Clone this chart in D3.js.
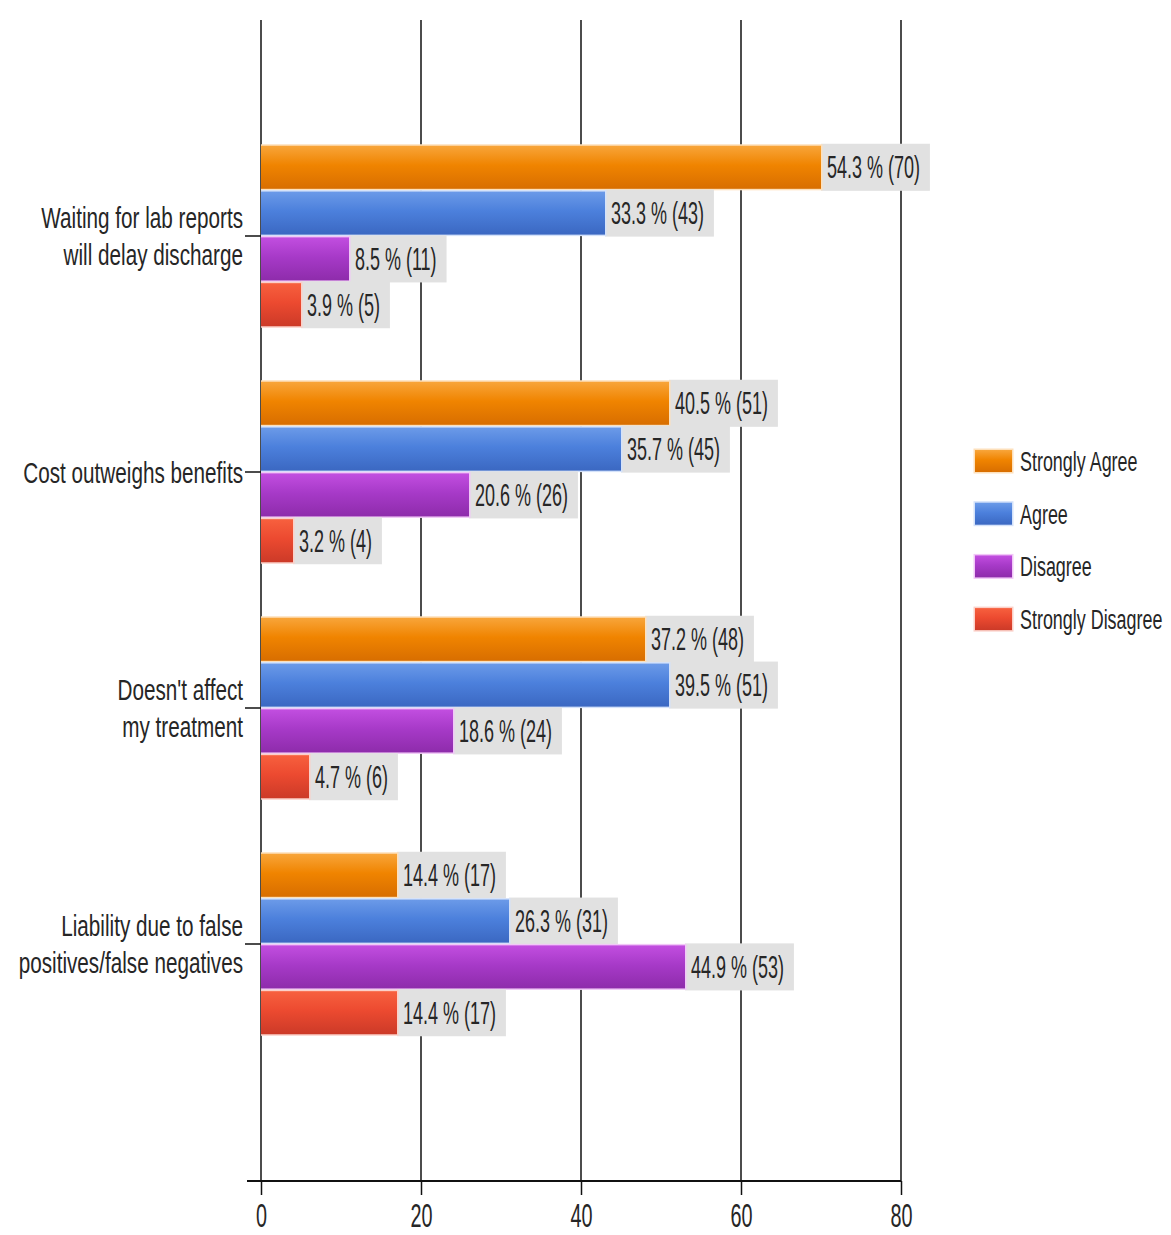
<!DOCTYPE html>
<html>
<head>
<meta charset="utf-8">
<script src="https://cdn.jsdelivr.net/npm/d3@7"></script>
<style>
  html, body { margin: 0; padding: 0; background: #fff; }
  svg text { font-family: "Liberation Sans", Arial, sans-serif; fill: #262626; }
</style>
</head>
<body>
<svg id="chart" width="1171" height="1235"></svg>
<script>
// Survey statements (each entry holds the lines of its wrapped label)
const categories = [
  ["Waiting for lab reports", "will delay discharge"],
  ["Cost outweighs benefits"],
  ["Doesn't affect", "my treatment"],
  ["Liability due to false", "positives/false negatives"]
];
const seriesNames = ["Strongly Agree", "Agree", "Disagree", "Strongly Disagree"];

// Response counts per statement
const stronglyAgree    = [70, 51, 48, 17];
const agree            = [43, 45, 51, 31];
const disagree         = [11, 26, 24, 53];
const stronglyDisagree = [5, 4, 6, 17];

// Share of respondents per statement (%)
const stronglyAgreePct    = [54.3, 40.5, 37.2, 14.4];
const agreePct            = [33.3, 35.7, 39.5, 26.3];
const disagreePct         = [8.5, 20.6, 18.6, 44.9];
const stronglyDisagreePct = [3.9, 3.2, 4.7, 14.4];

const xTicks = [0, 20, 40, 60, 80];

const counts = [stronglyAgree, agree, disagree, stronglyDisagree];
const pcts = [stronglyAgreePct, agreePct, disagreePct, stronglyDisagreePct];

// Colour stops: top, middle, bottom, halo
const palette = [
  ["#f8a53a", "#f08400", "#d86e00", "#fde0bb"],
  ["#6b9ae8", "#4c80dc", "#3b68c2", "#d4e2fa"],
  ["#c24ee0", "#a73ac8", "#8e2cab", "#f1c8f7"],
  ["#f7603e", "#ec4a30", "#cc3a28", "#fbd0c8"]
];

// Condensed type: a regular face squeezed horizontally
const SQ_VALUE = 0.58, SQ_CAT = 0.69, SQ_LEG = 0.64, SQ_TICK = 0.6;

const svg = d3.select("#chart");
const defs = svg.append("defs");
palette.forEach((c, i) => {
  const g = defs.append("linearGradient")
    .attr("id", "grad" + i).attr("x1", 0).attr("y1", 0).attr("x2", 0).attr("y2", 1);
  g.append("stop").attr("offset", "0%").attr("stop-color", c[0]);
  g.append("stop").attr("offset", "45%").attr("stop-color", c[1]);
  g.append("stop").attr("offset", "100%").attr("stop-color", c[2]);
});

const plotTop = 20, plotBottom = 1181;
const x = d3.scaleLinear().domain([0, 80]).range([261, 901]);
const y = d3.scaleBand().domain(d3.range(categories.length)).range([118, 1062]).padding(0);
const sub = d3.scaleBand().domain(d3.range(seriesNames.length)).range([25, y.bandwidth() - 25]).padding(0.06);

// Vertical grid lines
svg.append("g").selectAll("line").data(xTicks).join("line")
  .attr("x1", d => x(d)).attr("x2", d => x(d))
  .attr("y1", plotTop).attr("y2", plotBottom)
  .attr("stroke", "#111").attr("stroke-width", 1.5);

// Bars with value labels
const groups = svg.append("g").selectAll("g").data(categories).join("g")
  .attr("transform", (d, i) => `translate(0,${y(i)})`);

groups.each(function (cat, ci) {
  const g = d3.select(this);
  seriesNames.forEach((s, si) => {
    const v = counts[si][ci];
    const by = sub(si), bh = sub.bandwidth();
    const label = `${pcts[si][ci]} % (${v})`;
    const lx = x(v);
    const t = g.append("text")
      .attr("transform", `translate(${lx + 6},${by + bh / 2}) scale(${SQ_VALUE},1)`)
      .attr("dy", "0.36em").attr("font-size", 31)
      .text(label);
    const w = t.node().getComputedTextLength() * SQ_VALUE;
    g.append("rect")
      .attr("x", lx).attr("y", by - 2)
      .attr("width", w + 16).attr("height", bh + 4)
      .attr("fill", "#e1e1e1");
    g.append("rect")
      .attr("x", x(0)).attr("y", by - 1.5)
      .attr("width", x(v) - x(0) + 1.5).attr("height", bh + 3)
      .attr("fill", palette[si][3]);
    g.append("rect")
      .attr("x", x(0)).attr("y", by)
      .attr("width", x(v) - x(0)).attr("height", bh)
      .attr("fill", `url(#grad${si})`);
    t.raise();
  });
});

// Category axis: tick marks and wrapped labels
const catAxis = svg.append("g");
categories.forEach((lines, i) => {
  const cy = y(i) + y.bandwidth() / 2;
  catAxis.append("line")
    .attr("x1", 245).attr("x2", 261).attr("y1", cy).attr("y2", cy)
    .attr("stroke", "#111").attr("stroke-width", 1.5);
  const lh = 37;
  lines.forEach((ln, k) => {
    catAxis.append("text")
      .attr("transform", `translate(243,${cy + (k - (lines.length - 1) / 2) * lh}) scale(${SQ_CAT},1)`)
      .attr("text-anchor", "end").attr("dy", "0.36em").attr("font-size", 30)
      .text(ln);
  });
});

// Value axis at the bottom
const xAxis = d3.axisBottom(x).tickValues(xTicks).tickSize(14).tickPadding(9).tickSizeOuter(0);
const ax = svg.append("g").attr("transform", `translate(0,${plotBottom})`).call(xAxis);
ax.select(".domain").attr("stroke", "#111").attr("stroke-width", 2).attr("d", `M247,0H${x(80)}`);
ax.selectAll(".tick line").attr("stroke", "#111").attr("stroke-width", 1.5);
ax.selectAll(".tick text")
  .attr("font-size", 33).attr("fill", "#262626")
  .attr("transform", `scale(${SQ_TICK},1)`)
  .style("font-family", '"Liberation Sans", Arial, sans-serif');

// Legend
const legend = svg.append("g").attr("transform", "translate(975,450)");
seriesNames.forEach((s, i) => {
  const row = legend.append("g").attr("transform", `translate(0,${i * 52.7})`);
  row.append("rect").attr("x", -1.5).attr("y", -1.5).attr("width", 40).attr("height", 25)
    .attr("fill", palette[i][3]);
  row.append("rect").attr("width", 37).attr("height", 22).attr("fill", `url(#grad${i})`);
  row.append("text")
    .attr("transform", `translate(45,11) scale(${SQ_LEG},1)`)
    .attr("dy", "0.36em").attr("font-size", 28).text(s);
});
</script>
</body>
</html>
